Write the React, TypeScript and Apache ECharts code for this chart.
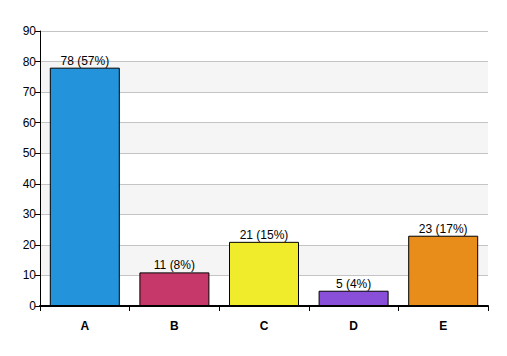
import React, { useEffect, useRef } from "react";
import * as echarts from "echarts";

const categories = ["A", "B", "C", "D", "E"];
const values = [78, 11, 21, 5, 23];
const percents = ["57%", "8%", "15%", "4%", "17%"];
const colors = ["#2394dc", "#c7386a", "#f0ec2c", "#8a4fd8", "#e88c1a"];

export default function App() {
  const ref = useRef<HTMLDivElement>(null);
  useEffect(() => {
    const chart = echarts.init(ref.current!, null, { renderer: "svg" });
    chart.setOption({
      animation: false,
      backgroundColor: "#ffffff",
      grid: { left: 40, right: 19, top: 31, bottom: 50, containLabel: false },
      xAxis: {
        type: "category",
        data: categories,
        axisLine: { show: true, lineStyle: { color: "#000", width: 2 } },
        axisTick: { show: true, alignWithLabel: false, length: 5, lineStyle: { color: "#000", width: 1 } },
        axisLabel: { color: "#000", fontFamily: "Arial, Liberation Sans", fontSize: 12, fontWeight: "bold", margin: 14 },
      },
      yAxis: {
        type: "value",
        min: 0,
        max: 90,
        interval: 10,
        axisLine: { show: true, lineStyle: { color: "#000", width: 1 } },
        axisTick: { show: true, length: 5, lineStyle: { color: "#000" } },
        axisLabel: { color: "#000", fontFamily: "Arial, Liberation Sans", fontSize: 12, margin: 4 },
        splitLine: { show: true, lineStyle: { color: "#c4c4c4", width: 1 } },
        splitArea: { show: true, areaStyle: { color: ["#ffffff", "#f5f5f5"] } },
      },
      series: [
        {
          type: "bar",
          barWidth: 70,
          data: values.map((v, i) => ({
            value: v,
            itemStyle: { color: colors[i], borderColor: "#000", borderWidth: 1 },
          })),
          label: {
            show: true,
            position: "top",
            distance: 1,
            color: "#000",
            fontFamily: "Arial, Liberation Sans",
            fontSize: 12,
            formatter: (p: any) => `${p.value} (${percents[p.dataIndex]})`,
          },
        },
      ],
    });
    return () => chart.dispose();
  }, []);
  return <div ref={ref} style={{ width: 507, height: 356, position: "absolute", left: 0, top: 0 }} />;
}
